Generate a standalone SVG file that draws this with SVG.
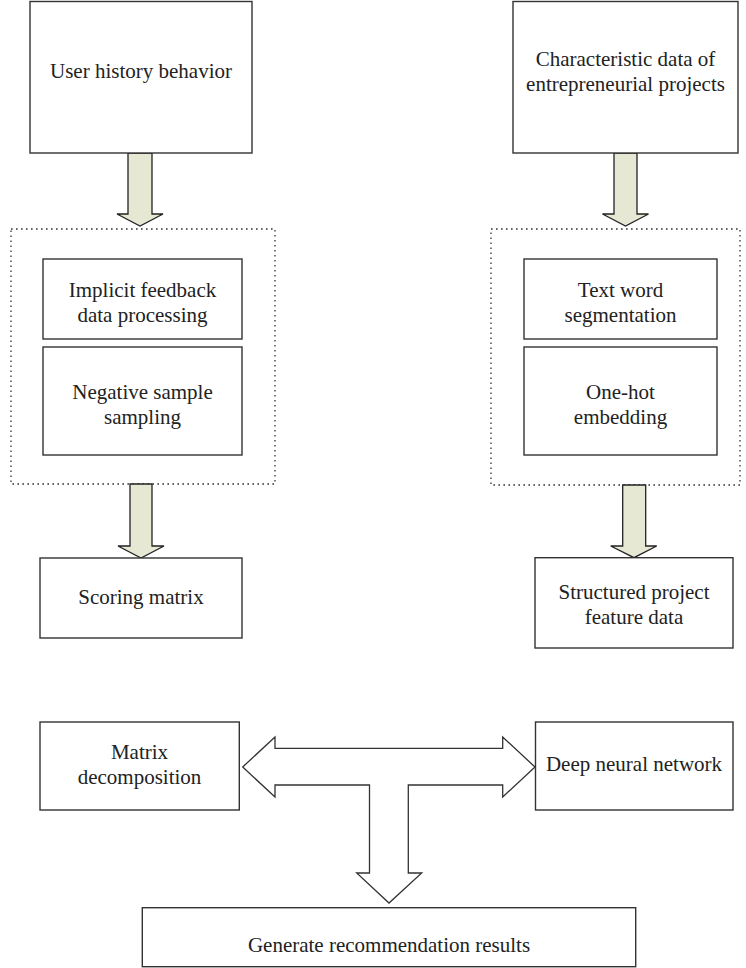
<svg xmlns="http://www.w3.org/2000/svg" width="746" height="968" viewBox="0 0 746 968">
  <style>
    .box { fill: #ffffff; stroke: #333333; stroke-width: 1.4; }
    .group { fill: none; stroke: #333333; stroke-width: 1.3; stroke-dasharray: 1.6 3.4; }
    .flow { fill: #e6e8d3; stroke: #222222; stroke-width: 1.3; stroke-linejoin: miter; }
    .join { fill: #ffffff; stroke: #333333; stroke-width: 1.3; stroke-linejoin: miter; }
    text { font-family: "Liberation Serif", "Times New Roman", serif; font-size: 21px; fill: #222222; text-anchor: middle; }
  </style>
  <rect width="746" height="968" fill="#ffffff"/>

  <!-- grouping frames -->
  <rect id="preprocess-user" class="group" x="11" y="229" width="264" height="255"/>
  <rect id="preprocess-project" class="group" x="491" y="229" width="249" height="256"/>

  <!-- connectors -->
  <g id="connectors">
    <path class="flow" d="M128,153 H152 V214 H163 L140,226 L117,214 H128 Z"/>
    <path class="flow" d="M614,153 H637 V214 H648.5 L625.5,226 L602.5,214 H614 Z"/>
    <path class="flow" d="M130,484 H152 V546 H164 L141,558 L118,546 H130 Z"/>
    <path class="flow" d="M622.7,485 H645.7 V546 H656.7 L634,557.7 L610.7,546 H622.7 Z"/>
    <path class="join" d="M242.7,767 L275,737 V748.3 H502.7 V737 L535,767 L502.7,797 V785 H408.3 V873 H421.7 L389,903 L356.7,873 H369.5 V785 H275 V797 Z"/>
  </g>

  <g id="user-history">
    <rect class="box" x="30" y="1.5" width="222" height="151.5"/>
    <text x="141" y="78">User history behavior</text>
  </g>

  <g id="project-data">
    <rect class="box" x="513" y="1.5" width="225" height="151.5"/>
    <text x="625.5" y="66">Characteristic data of</text>
    <text x="625.5" y="91">entrepreneurial projects</text>
  </g>

  <g id="implicit-feedback">
    <rect class="box" x="43" y="259" width="199" height="80"/>
    <text x="142.5" y="297">Implicit feedback</text>
    <text x="142.5" y="322">data processing</text>
  </g>

  <g id="negative-sampling">
    <rect class="box" x="43" y="347" width="199" height="108"/>
    <text x="142.5" y="399">Negative sample</text>
    <text x="142.5" y="424">sampling</text>
  </g>

  <g id="word-segmentation">
    <rect class="box" x="524" y="259" width="193" height="80"/>
    <text x="620.5" y="297">Text word</text>
    <text x="620.5" y="322">segmentation</text>
  </g>

  <g id="one-hot">
    <rect class="box" x="524" y="347" width="193" height="108"/>
    <text x="620.5" y="399">One-hot</text>
    <text x="620.5" y="424">embedding</text>
  </g>

  <g id="scoring-matrix">
    <rect class="box" x="40" y="558" width="202" height="80"/>
    <text x="141" y="604">Scoring matrix</text>
  </g>

  <g id="project-features">
    <rect class="box" x="535" y="557.7" width="198" height="90.3"/>
    <text x="634" y="599">Structured project</text>
    <text x="634" y="624">feature data</text>
  </g>

  <g id="matrix-decomposition">
    <rect class="box" x="40" y="722" width="199.3" height="88"/>
    <text x="139.5" y="759">Matrix</text>
    <text x="139.5" y="784">decomposition</text>
  </g>

  <g id="deep-network">
    <rect class="box" x="535.5" y="722" width="197.5" height="88"/>
    <text x="634" y="771">Deep neural network</text>
  </g>

  <g id="recommendation">
    <rect class="box" x="142.3" y="907.7" width="493.4" height="59"/>
    <text x="389" y="952">Generate recommendation results</text>
  </g>
</svg>
